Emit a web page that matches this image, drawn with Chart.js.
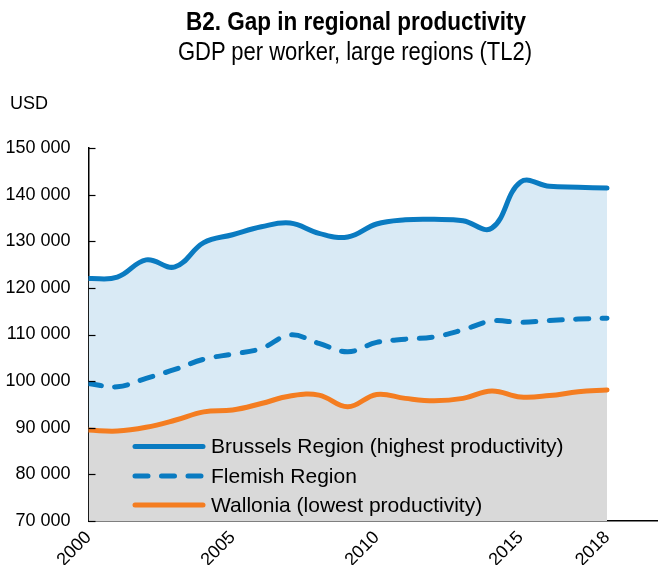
<!DOCTYPE html>
<html><head><meta charset="utf-8">
<script src="https://cdn.jsdelivr.net/npm/chart.js@4/dist/chart.umd.min.js"></script>
<style>
html,body{margin:0;padding:0;background:#fff;}
#wrap{position:relative;width:658px;height:565px;font-family:"Liberation Sans",Arial,sans-serif;color:#000;}
.t{position:absolute;white-space:nowrap;line-height:1;}
#title{left:356px;top:9px;transform:translateX(-50%) scaleX(0.9);font-weight:bold;font-size:25px;}
#sub{left:355px;top:39px;transform:translateX(-50%) scaleX(0.88);font-size:25px;}
#usd{left:10px;top:94px;font-size:18px;}
canvas{position:absolute;left:0;top:0;}
</style></head>
<body>
<div id="wrap">
<canvas id="c" width="658" height="565"></canvas>
<div class="t" id="title">B2. Gap in regional productivity</div>
<div class="t" id="sub">GDP per worker, large regions (TL2)</div>
<div class="t" id="usd">USD</div>
</div>
<script>
const years = [2000,2001,2002,2003,2004,2005,2006,2007,2008,2009,2010,2011,2012,2013,2014,2015,2016,2017,2018];
const brussels = [122000,122300,126000,124500,129700,131400,133100,133900,131700,130900,133700,134600,134700,134400,132800,142700,141800,141600,141400];
const flemish  = [99500,98800,100600,102500,104700,105800,107000,109900,108100,106300,108300,109000,109500,111000,112900,112600,113000,113300,113500];
const wallonia = [89500,89300,90100,91600,93400,93800,95200,96800,97000,94500,97150,96300,95800,96300,97900,96600,96900,97700,98100];
const xTicks = [2000,2005,2010,2015,2018];
const labels = ["Brussels Region (highest productivity)","Flemish Region","Wallonia (lowest productivity)"];

const BLUE = '#0a7bc1', ORANGE = '#f47d21';
const pts = arr => years.map((y,i)=>({x:y,y:arr[i]}));

const legendPlugin = {
  id:'inLegend',
  afterDatasetsDraw(chart){
    const ctx = chart.ctx;
    const rows = [446.5, 476, 505];
    chart.data.datasets.forEach((ds,i)=>{
      ctx.save();
      ctx.strokeStyle = ds.borderColor;
      ctx.lineWidth = 5;
      ctx.lineCap = 'round';
      ctx.setLineDash(ds.borderDash || []);
      ctx.beginPath(); ctx.moveTo(135, rows[i]); ctx.lineTo(203, rows[i]); ctx.stroke();
      ctx.setLineDash([]);
      ctx.fillStyle = '#000';
      ctx.font = '21px "Liberation Sans", Arial, sans-serif';
      ctx.textBaseline = 'middle';
      ctx.fillText(ds.label, 211, rows[i]+1);
      ctx.restore();
    });
  }
};
const tickPlugin = {
  id:'inTicks',
  afterDraw(chart){
    const ctx = chart.ctx, ys = chart.scales.y, left = chart.chartArea.left;
    ctx.save(); ctx.strokeStyle='#000'; ctx.lineWidth=1.2;
    ys.ticks.forEach(t=>{ const p = Math.round(ys.getPixelForValue(t.value))+0.5;
      ctx.beginPath(); ctx.moveTo(left, p); ctx.lineTo(left+7, p); ctx.stroke(); });
    ctx.restore();
  }
};

new Chart(document.getElementById('c'), {
  type:'line',
  data:{ datasets:[
    {label:labels[0], data:pts(brussels), borderColor:BLUE, borderWidth:5, tension:0.4, pointRadius:0, fill:{target:2}, backgroundColor:'#d9eaf5', borderCapStyle:'round'},
    {label:labels[1], data:pts(flemish), borderColor:BLUE, borderWidth:5, borderDash:[13,13.5], borderCapStyle:'round', tension:0.4, pointRadius:0, fill:false},
    {label:labels[2], data:pts(wallonia), borderColor:ORANGE, borderWidth:5, tension:0.4, pointRadius:0, fill:'start', backgroundColor:'#d9d9d9', borderCapStyle:'round'}
  ]},
  options:{
    responsive:false, animation:false,
    layout:{padding:{top:148,right:0,left:0,bottom:0}},
    plugins:{legend:{display:false}, tooltip:{enabled:false}, title:{display:false}, filler:{drawTime:'beforeDatasetsDraw'}},
    scales:{
      x:{ type:'linear', min:2000, max:2019.77,
        afterBuildTicks(s){ s.ticks = xTicks.map(v=>({value:v})); },
        afterFit(s){ s.height = 44; },
        grid:{display:false, drawTicks:false},
        border:{display:true, color:'#000', width:1.5},
        ticks:{ minRotation:45, maxRotation:45, padding:6, color:'#000', font:{family:'"Liberation Sans", Arial, sans-serif', size:18},
          callback:v=>String(v) }
      },
      y:{ min:70000, max:150000,
        afterFit(s){ s.width = 88.5; },
        grid:{display:false, drawTicks:false},
        border:{display:true, color:'#000', width:1.5},
        ticks:{ stepSize:10000, padding:18, color:'#000', font:{family:'"Liberation Sans", Arial, sans-serif', size:18},
          callback:v=>String(v).replace(/\B(?=(\d{3})+(?!\d))/g,' ') }
      }
    }
  },
  plugins:[legendPlugin, tickPlugin]
});
</script>
</body></html>
